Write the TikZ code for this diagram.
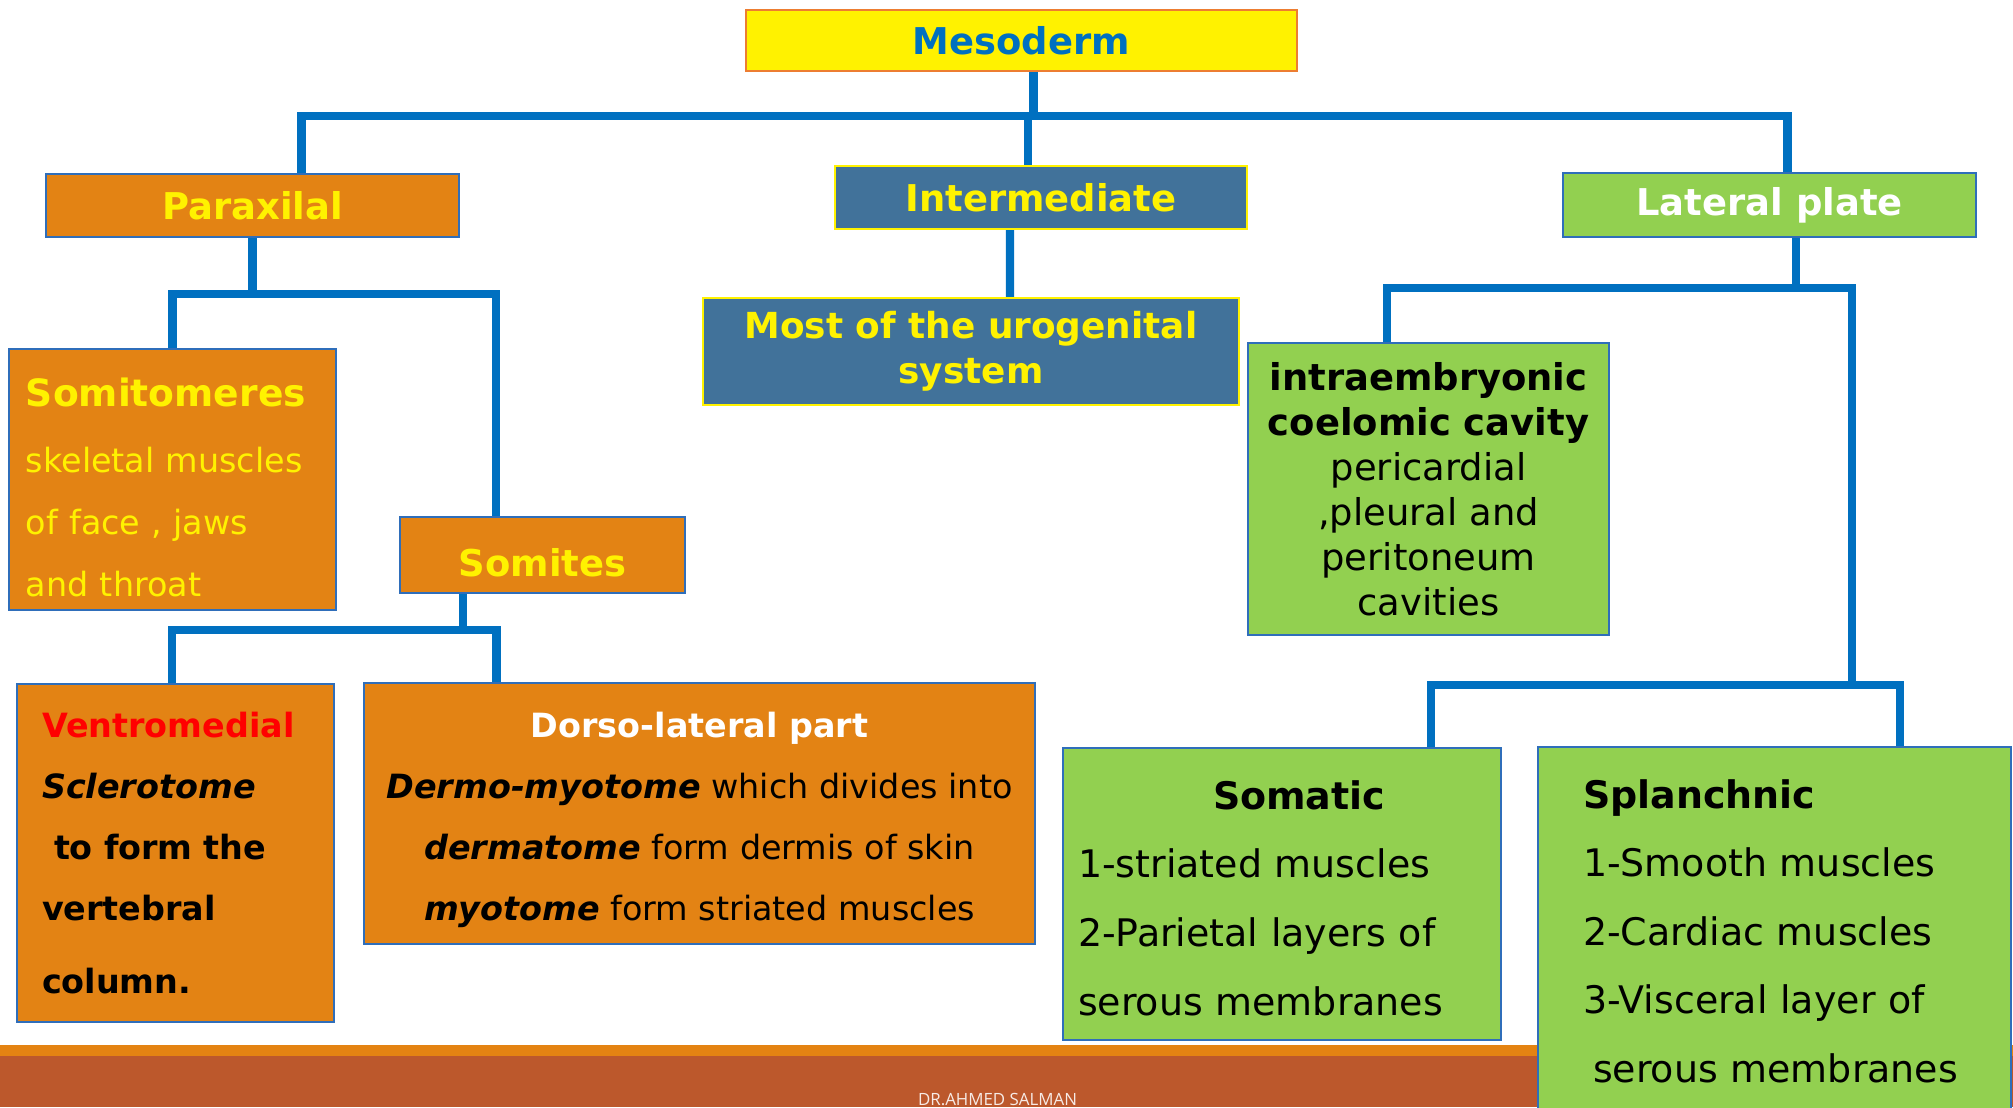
\documentclass[tikz,border=0pt]{standalone}
\usepackage{fontspec}
\setmainfont{DejaVu Sans}
\newfontfamily\footfont{Open Sans}

\definecolor{linkblue}{HTML}{0070C0}
\definecolor{boxblue}{HTML}{2F6EBA}
\definecolor{boxorange}{HTML}{E38314}
\definecolor{boxgreen}{HTML}{92D050}
\definecolor{steel}{HTML}{41729A}
\definecolor{mesoline}{HTML}{ED7D31}
\definecolor{footorange}{HTML}{E48312}
\definecolor{footbrown}{HTML}{BC582C}

\newcommand{\headsz}{\fontsize{10.5}{12.6}\selectfont}
\newcommand{\lift}[1]{\rule{0pt}{#1}}

\begin{document}
\begin{tikzpicture}[
  link/.style={draw=linkblue, line width=2.3pt},
  card/.style={draw=#1, line width=0.6pt, inner sep=0pt, align=center}
]
  \useasboundingbox (0,0) rectangle (20.13,-11.07);

  % footer band
  \fill[footorange] (0,-10.45) rectangle (20.13,-10.56);
  \fill[footbrown] (0,-10.56) rectangle (20.13,-11.07);
  \node[text=white!88!footbrown, font=\footfont\fontsize{4.8}{5}\selectfont] (sign) at (9.975,-10.99) {DR.AHMED SALMAN};

  % first level
  \node[card=mesoline, fill=yellow, minimum width=5.51cm, minimum height=0.61cm,
        text=linkblue, font=\headsz\bfseries] (meso) at (10.215,-0.405) {Mesoderm};
  \node[card=boxblue, fill=boxorange, minimum width=4.13cm, minimum height=0.63cm,
        text=yellow, font=\headsz\bfseries] (para) at (2.525,-2.055) {Paraxilal};
  \node[card=yellow, fill=steel, minimum width=4.12cm, minimum height=0.63cm,
        text=yellow, font=\headsz\bfseries] (inter) at (10.41,-1.975) {Intermediate};
  \node[card=boxblue, fill=boxgreen, minimum width=4.13cm, minimum height=0.64cm,
        text=white, font=\headsz\bfseries] (lat) at (17.695,-2.05) {Lateral plate};

  % paraxial branch
  \node[card=boxblue, fill=boxorange, minimum height=2.61cm, text width=2.93cm, inner xsep=0.17cm,
        align=left, text=yellow, font=\fontsize{9.5}{17.6}\selectfont] (somitom) at (1.725,-4.795)
    {\lift{12.7pt}{\fontsize{10.7}{17.6}\selectfont\bfseries Somitomeres}\\[1.2pt]
     skeletal muscles\\ of face , jaws\\ and throat};
  \node[card=boxblue, fill=boxorange, minimum width=2.85cm, minimum height=0.76cm,
        text=yellow, font=\headsz\bfseries] (somites) at (5.425,-5.55) {\lift{12.4pt}Somites};
  \node[card=boxblue, fill=boxorange, minimum height=3.38cm, text width=2.67cm, inner xsep=0.25cm,
        align=left, font=\fontsize{9.5}{17.35}\selectfont\bfseries] (ventro) at (1.755,-8.53)
    {\textcolor{red}{Ventromedial}\\ \textit{Sclerotome}\\ \hspace*{0.12cm}to form the\\ vertebral\\[3.4pt] column.};
  \node[card=boxblue, fill=boxorange, minimum width=6.71cm, minimum height=2.61cm,
        font=\fontsize{9.5}{17.35}\selectfont] (dorso) at (6.995,-8.135)
    {\lift{10.6pt}\textcolor{white}{\bfseries Dorso-lateral part}\\
     \textbf{\textit{Dermo-myotome}} which divides into\\
     \textbf{\textit{dermatome}} form dermis of skin\\
     \textbf{\textit{myotome}} form striated muscles};

  % intermediate branch
  \node[card=yellow, fill=steel, minimum width=5.36cm, minimum height=1.07cm,
        text=yellow, font=\fontsize{10.2}{12.8}\selectfont\bfseries] (uro) at (9.71,-3.515)
    {Most of the urogenital\\ system};

  % lateral branch
  \node[card=boxblue, fill=boxgreen, minimum width=3.61cm, minimum height=2.92cm,
        font=\fontsize{10.5}{12.8}\selectfont] (intra) at (14.285,-4.89)
    {\textbf{intraembryonic}\\ \textbf{coelomic cavity}\\ pericardial\\ ,pleural and\\ peritoneum\\ cavities};
  \node[card=boxblue, fill=boxgreen, minimum height=2.92cm, text width=4.08cm, inner xsep=0.15cm,
        align=left, font=\fontsize{10.8}{19.5}\selectfont] (somatic) at (12.82,-8.94)
    {\lift{10.5pt}\hspace*{1.35cm}\textbf{Somatic}\\ 1-striated muscles\\ 2-Parietal layers of\\ serous membranes};
  \node[card=boxblue, fill=boxgreen, minimum height=3.68cm, text width=3.83cm, inner xsep=0.45cm,
        align=left, font=\fontsize{10.8}{19.5}\selectfont] (splanch) at (17.745,-9.31)
    {\textbf{Splanchnic}\\ 1-Smooth muscles\\ 2-Cardiac muscles\\
     3-Visceral layer of\\ \hspace*{0.1cm}serous membranes};

  % connectors
  \coordinate (mbar) at ([xshift=1.2mm,yshift=-0.44cm]meso.south);
  \draw[link] ([xshift=1.2mm]meso.south) -- (mbar);
  \draw[link] ([xshift=4.9mm]para.north) |- (mbar) -| ([xshift=1.8mm]lat.north);
  \draw[link] ([xshift=-1.3mm]inter.north) |- (mbar);

  \coordinate (pbar) at ([yshift=-0.56cm]para.south);
  \draw[link] (para.south) -- (pbar);
  \draw[link] (somitom.north) |- (pbar) -| ([xshift=-4.65mm]somites.north);

  \coordinate (sbar) at ([xshift=-7.95mm,yshift=-0.36cm]somites.south);
  \draw[link] ([xshift=-7.95mm]somites.south) -- (sbar);
  \draw[link] ([xshift=-0.35mm]ventro.north) |- (sbar) -| ([xshift=-20.3mm]dorso.north);

  \coordinate (ujoin) at ([xshift=3.9mm]uro.north);
  \draw[link] ([xshift=-3.1mm]inter.south) -- (ujoin);

  \coordinate (lbar) at ([xshift=2.65mm,yshift=-0.5cm]lat.south);
  \coordinate (lbar2) at (18.52,-6.85);
  \draw[link] ([xshift=2.65mm]lat.south) -- (lbar);
  \draw[link] ([xshift=-4.15mm]intra.north) |- (lbar) -| (lbar2);
  \draw[link] ([xshift=14.9mm]somatic.north) |- (lbar2) -| ([xshift=12.55mm]splanch.north);
\end{tikzpicture}
\end{document}
